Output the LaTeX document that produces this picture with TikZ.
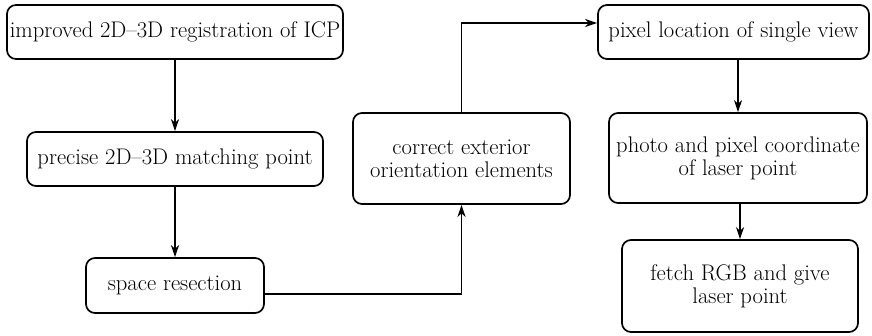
\documentclass[tikz,border=0pt]{standalone}
\usepackage{fontspec}
\usetikzlibrary{arrows.meta}
\begin{document}
\begin{tikzpicture}[x=1pt,y=-1pt,
  box/.style={draw, line width=1.7pt, rounded corners=9pt, inner sep=0pt, align=center,
    font=\fontsize{22.6}{23}\selectfont},
  conn/.style={line width=1.7pt, -{Stealth[length=12pt,width=8pt,inset=3.5pt]}}]
\useasboundingbox (0,0) rectangle (872,335);
\node[box, minimum width=336pt, minimum height=54pt] (n1) at (175,32) {improved 2D--3D registration of ICP};
\node[box, minimum width=296pt, minimum height=54pt] (n2) at (175,159) {precise 2D--3D matching point};
\node[box, minimum width=178pt, minimum height=55pt] (n3) at (175,285.5) {space resection};
\node[box, minimum width=217pt, minimum height=91pt] (n4) at (461.5,158.5) {correct exterior\\orientation elements};
\node[box, minimum width=271pt, minimum height=54pt] (n5) at (733.5,32) {pixel location of single view};
\node[box, minimum width=258pt, minimum height=90pt] (n6) at (738,158) {photo and pixel coordinate\\of laser point};
\node[box, minimum width=236pt, minimum height=92pt] (n7) at (740,286) {fetch RGB and give\\laser point};
\draw[conn] (n1) -- (n2);
\draw[conn] (n2) -- (n3);
\draw[conn] ([yshift=-8.5pt]n3.east) -| (n4.south);
\draw[conn] (n4.north) |- ([yshift=9pt]n5.west);
\draw[conn] (n6.north |- n5.south) -- (n6.north);
\draw[conn] (n7.north |- n6.south) -- (n7.north);
\end{tikzpicture}
\end{document}
